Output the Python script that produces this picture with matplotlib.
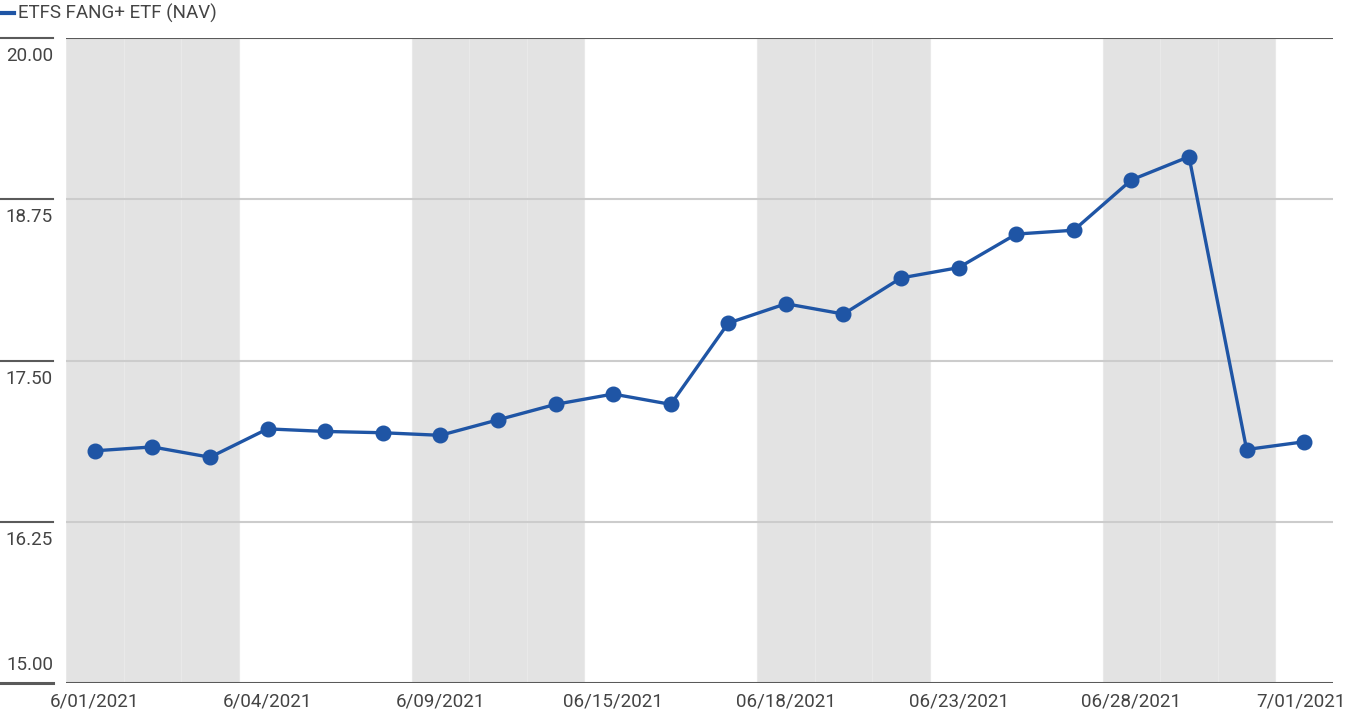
import matplotlib
matplotlib.use("Agg")
import matplotlib.pyplot as plt
from matplotlib.lines import Line2D
from matplotlib.transforms import ScaledTranslation

plt.rcParams['font.family'] = ['Roboto', 'DejaVu Sans']

dates = ['6/01', '6/02', '6/03', '6/04', '6/07', '6/08', '6/09', '6/10', '6/11',
         '6/15', '6/16', '6/17', '6/18', '6/21', '6/22', '6/23', '6/24', '6/25',
         '6/28', '6/29', '6/30', '7/01']
nav = [16.80, 16.83, 16.75, 16.97, 16.95, 16.94, 16.92, 17.04, 17.16, 17.24,
       17.16, 17.79, 17.94, 17.86, 18.14, 18.22, 18.48, 18.51, 18.90, 19.08,
       16.81, 16.87]
tick_pos = [0, 3, 6, 9, 12, 15, 18, 21]
tick_labels = ['6/01/2021', '6/04/2021', '6/09/2021', '06/15/2021',
               '06/18/2021', '06/23/2021', '06/28/2021', '7/01/2021']
y_ticks = [15.00, 16.25, 17.50, 18.75, 20.00]

W, H = 1345, 717
fs = 13.5
fig = plt.figure(figsize=(W / 100, H / 100), dpi=100)
ax = fig.add_axes([66 / W, 1 - 683 / H, (1333 - 66) / W, (683 - 38) / H])

text_col = '#444444'
blue = '#1f55a5'

# alternating shaded blocks of three days
x = list(range(len(dates)))
for i in x:
    if (i // 3) % 2 == 0:
        ax.axvspan(i - 0.5, i + 0.5, facecolor='#e3e3e3', edgecolor='#e9e9e9',
                   linewidth=0.8, zorder=0)

# grid lines inside plot
for v in y_ticks[1:-1]:
    ax.axhline(v, color='#cccccc', linewidth=1.5, zorder=1)
ax.axhline(20.0, color='#5a5a5a', linewidth=1.5, zorder=3)
ax.axhline(15.0, color='#5a5a5a', linewidth=2.2, zorder=3)

ax.plot(x, nav, color=blue, linewidth=2.4, marker='o', markersize=10.5, zorder=4)

ax.set_xlim(-0.5, len(dates) - 0.5)
ax.set_ylim(15, 20)
ax.set_xticks(tick_pos)
ax.set_xticklabels(tick_labels)
ax.tick_params(axis='x', length=0, pad=7, labelsize=fs, labelcolor=text_col)
ax.set_yticks([])
for s in ax.spines.values():
    s.set_visible(False)

# keep the last date label inside the figure
last = ax.get_xticklabels()[-1]
last.set_ha('right')
last.set_transform(last.get_transform() + ScaledTranslation(0.41, 0, fig.dpi_scale_trans))

# y labels and stubs on the left
for v in y_ticks:
    yf = ax.transData.transform((0, v))[1] / H
    lw = 2.2 if v == 15.0 else 1.5
    fig.add_artist(Line2D([0, 53 / W], [yf, yf], color='#5a5a5a', linewidth=lw))
    if v == 15.0:
        fig.text(53 / W, yf + 9 / H, f'{v:.2f}', ha='right', va='bottom',
                 fontsize=fs, color=text_col)
    else:
        fig.text(53 / W, yf - 9 / H, f'{v:.2f}', ha='right', va='top',
                 fontsize=fs, color=text_col)

# legend
fig.add_artist(Line2D([0, 14 / W], [1 - 13 / H, 1 - 13 / H], color=blue, linewidth=3))
fig.text(18 / W, 1 - 13 / H, 'ETFS FANG+ ETF (NAV)', ha='left', va='center',
         fontsize=fs, color=text_col)

fig.savefig('out.png', dpi=100)
